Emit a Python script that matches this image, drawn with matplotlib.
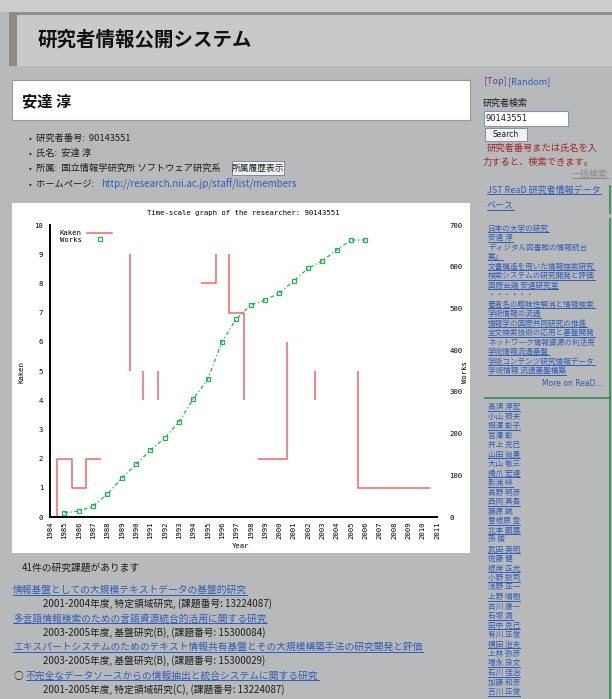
import matplotlib
matplotlib.use("Agg")
import matplotlib.pyplot as plt
from matplotlib.lines import Line2D
from matplotlib.patches import Rectangle

W, H = 612, 699

# chart data
YEARS = list(range(1984, 2012))
TICK_YEARS = [1987, 1988, 1989, 1992, 1993, 1994, 1996, 1998, 1999, 2000,
              2003, 2004, 2005, 2009, 2010]
KAKEN_TICKS = [7, 8]
WORKS_TICKS = [300, 500, 600]

# Kaken steps: separate runs of (year, count)
KAKEN_RUNS = [
    ([1984.5, 1984.5, 1985.5, 1985.5, 1986.5, 1986.5, 1987.55], [0, 2, 2, 1, 1, 2, 2]),
    ([1989.55, 1989.55], [5, 9]),
    ([1990.5, 1990.5], [4, 5]),
    ([1991.5, 1991.5], [4, 5]),
    ([1994.5, 1995.55, 1995.55], [8, 8, 9]),
    ([1996.5, 1996.5, 1997.5, 1997.5], [9, 7, 7, 4]),
    ([1998.5, 2000.5, 2000.5], [2, 2, 6]),
    ([2002.5, 2002.5], [4, 5]),
    ([2005.5, 2005.5, 2010.5], [5, 1, 1]),
]

WORKS_YEARS = list(range(1985, 2007))
WORKS = [10, 14, 26, 55, 93, 126, 160, 189, 228, 283, 330, 420, 475, 508,
         520, 537, 566, 596, 614, 640, 664, 664]

RESEARCHER_ID = "90143551"

# page texts
INFO_LINES = [
    "研究者番号:  90143551",
    "氏名:  安達 淳",
    "所属:  国立情報学研究所 ソフトウェア研究系",
]
HOMEPAGE = "http://research.nii.ac.jp/staff/list/members"

READ_ITEMS = [
    ("日本の大学の研究", True),
    ("安達 淳", True),
    ("ディジタル図書館の情報統合", False),
    ("案」", True),
    ("文書構造を用いた情報検索研究", True),
    ("検索システムの研究開発と評価", True),
    ("国際会議 安達研究室", True),
    ("・・・・・・", False),
    ("著者名の曖昧性解消と情報検索", True),
    ("学術情報の流通", True),
    ("情報学の国際共同研究の推進", True),
    ("全文検索技術の応用と基盤開発", True),
    ("ネットワーク情報資源の利活用", False),
    ("学術情報流通基盤", True),
    ("学術コンテンツ研究情報データ", True),
    ("学術情報 流通基盤構築", True),
]

COAUTHORS = [
    ("高須 淳宏", True), ("小山 照夫", False), ("相澤 彰子", True),
    ("宮澤 彰", False), ("井上 克巳", False), ("山田 尚勇", True),
    ("大山 敬三", False), ("橋爪 宏達", True), ("影浦 峡", True),
    ("高野 明彦", False), ("西岡 真吾", True), ("藤原 誠", False),
    ("曽根原 登", True), ("北本 朝展", True), ("孫 媛", False),
    ("武田 英明", True), ("佐藤 健", False), ("根岸 正光", True),
    ("小野 欽司", True), ("浅野 正一", False), ("上野 晴樹", True),
    ("古川 康一", False), ("石塚 満", True), ("田中 克己", True),
    ("有川 正俊", False), ("横田 治夫", True), ("上林 弥彦", False),
    ("増永 良文", True), ("石川 佳治", True), ("加藤 和彦", False),
    ("吉川 正俊", True),
]

PROJECTS = [
    ("情報基盤としての大規模テキストデータの基盤的研究",
     "2001-2004年度, 特定領域研究, (課題番号: 13224087)"),
    ("多言語情報検索のための言語資源統合的活用に関する研究",
     "2003-2005年度, 基盤研究(B), (課題番号: 15300084)"),
    ("エキスパートシステムのためのテキスト情報共有基盤とその大規模構築手法の研究開発と評価",
     "2003-2005年度, 基盤研究(B), (課題番号: 15300029)"),
    ("不完全なデータソースからの情報抽出と統合システムに関する研究",
     "2001-2005年度, 特定領域研究(C), (課題番号: 13224087)"),
]

RED = "#f0646e"
GREEN = "#22b455"
LINK = "#2e5cb8"
BODY = "#b8b9bb"

plt.rcParams["font.family"] = ["Noto Sans CJK JP", "DejaVu Sans"]

fig = plt.figure(figsize=(W / 100, H / 100), dpi=100)
fig.patch.set_facecolor(BODY)
renderer = fig.canvas.get_renderer()


def fx(x):
    return x / W


def fy(y):
    return 1 - y / H


def box(x0, y0, x1, y1, fc, ec="none", lw=0.0, z=-5):
    fig.add_artist(Rectangle((fx(x0), fy(y1)), (x1 - x0) / W, (y1 - y0) / H,
                             transform=fig.transFigure, facecolor=fc,
                             edgecolor=ec, linewidth=lw, zorder=z))


def line(x0, x1, y0, y1, color, lw=0.8, z=-4):
    fig.add_artist(Line2D([fx(x0), fx(x1)], [fy(y0), fy(y1)],
                          transform=fig.transFigure, color=color, lw=lw, zorder=z))


def text(x, y, s, size=7, color="#1e1e1e", underline=False, **kw):
    t = fig.text(fx(x), fy(y), s, fontsize=size, color=color, va="center", **kw)
    if underline:
        bb = t.get_window_extent(renderer)
        line(bb.x0, bb.x1, H - bb.y0 - 0.5, H - bb.y0 - 0.5, color, lw=0.7)
    return t


# page background pieces
box(0, 0, W, 12, "#cdcdcd")
box(9, 12, W, 66, "#c9c9c9")
box(9, 12, W, 14.5, "#8f8f8f")
box(9, 12, 17, 66, "#8c8c8c")
text(38, 40, "研究者情報公開システム", size=14, color="#111111", weight="bold")

box(12, 80, 470, 120, "white", ec="#9a9a9a", lw=0.8)
text(22, 101, "安達 淳", size=11, color="#111111", weight="bold")

for i, s in enumerate(INFO_LINES):
    y = 138 + i * 15.3
    text(29, y, "•", size=6)
    text(36, y, s, size=6.7)
box(232, 161, 284, 175, "#f2f2f2", ec="#7a8aa0", lw=0.7, z=-3)
text(258, 168, "所属履歴表示", size=6.3, ha="center")
text(29, 184, "•", size=6)
text(36, 184, "ホームページ: ", size=6.7)
text(101, 184, HOMEPAGE, size=7, color=LINK)

# sidebar
text(484, 82, "[Top]", size=6.5, color="#6a3a9a")
text(508, 82, "[Random]", size=6.5, color=LINK)
text(483, 103, "研究者検索", size=6.5)
box(484, 111, 568, 126, "white", ec="#7c9ab8", lw=0.8, z=-3)
text(486, 118.5, RESEARCHER_ID, size=6, family="DejaVu Sans")
box(485, 128, 527, 141, "#f0f0f0", ec="#8090a8", lw=0.7, z=-3)
text(506, 134.5, "Search", size=5.5, ha="center", family="DejaVu Sans")
text(487, 148, "研究者番号または氏名を入", size=6.7, color="#a3252a")
text(483, 162, "力すると、検索できます。", size=6.7, color="#a3252a")
text(608, 174, "一括検索", size=6.5, color="#8a8a8a", ha="right", underline=True)
text(487, 190, "JST ReaD 研究者情報データ", size=6.5, color=LINK, underline=True)
text(487, 206, "ベース", size=6.5, color=LINK, underline=True)
line(609.5, 609.5, 186, 213, "#2e8b57", lw=1.2)
line(609.5, 609.5, 219, 398, "#2e8b57", lw=1.2)
line(485, 610, 397.5, 397.5, "#2e8b57", lw=1.2)
line(609.5, 609.5, 397, H, "#2e8b57", lw=1.2)
for i, (s, u) in enumerate(READ_ITEMS):
    text(488, 228.5 + i * 9.5, s, size=5.5, color=LINK, underline=u)
text(603, 383, "More on ReaD...", size=5.5, color=LINK, ha="right",
     family="DejaVu Sans")
for i, (s, u) in enumerate(COAUTHORS):
    text(488, 407 + i * 9.5, s, size=5.5, color=LINK, underline=u)

# projects list
text(22, 568, "41件の研究課題があります", size=7)
for i, (title, meta) in enumerate(PROJECTS):
    y = 590 + i * 28.5
    if i == 3:
        text(13, y, "○", size=7)
        text(26, y, title, size=7, color=LINK, underline=True)
    else:
        text(13, y, title, size=7, color=LINK, underline=True)
    text(43, y + 14, meta, size=7)

# chart area
box(12, 203, 470, 553, "white", z=-5)
ax = fig.add_axes([fx(50), fy(517), 387 / W, 292 / H])
ax.set_facecolor("none")
ax2 = ax.twinx()

mono = dict(family="DejaVu Sans Mono", fontsize=5.2)

for xs, ys in KAKEN_RUNS:
    ax.plot(xs, ys, color=RED, lw=1.1, solid_capstyle="butt")
ax2.plot(WORKS_YEARS, WORKS, color=GREEN, lw=0.9, dashes=(3, 2, 1, 2),
         marker="s", ms=3.2, mfc="none", mew=0.9)

ax.set_xlim(1984, 2011)
ax.set_ylim(0, 10)
ax2.set_ylim(0, 700)

ax.set_xticks(YEARS)
ax.set_xticklabels([str(y) for y in YEARS], rotation=90, **mono)
ax.set_xticks(TICK_YEARS, minor=True)
ax.set_yticks(range(0, 11))
ax.set_yticklabels([str(v) for v in range(0, 11)], **mono)
ax.set_yticks(KAKEN_TICKS, minor=True)
ax.tick_params(axis="x", which="major", length=0, pad=3)
ax.tick_params(axis="x", which="minor", length=4, width=0.9, direction="in",
               top=True, bottom=True)
ax.tick_params(axis="y", which="major", length=0, pad=5)
ax.tick_params(axis="y", which="minor", length=4, width=0.9, direction="in")

ax2.set_yticks(range(0, 701, 100))
ax2.set_yticklabels([str(v) for v in range(0, 701, 100)], **mono)
ax2.set_yticks(WORKS_TICKS, minor=True)
ax2.tick_params(axis="y", which="major", length=0, pad=9)
ax2.tick_params(axis="y", which="minor", length=4, width=0.9, direction="in")

for a in (ax, ax2):
    a.spines["top"].set_visible(False)
    a.spines["right"].set_visible(False)
ax2.spines["left"].set_visible(False)
ax2.spines["bottom"].set_visible(False)
ax.spines["left"].set_linewidth(1.4)
ax.spines["bottom"].set_linewidth(1.4)

handles = [
    Line2D([], [], color=RED, lw=1.1),
    Line2D([], [], color=GREEN, ls="none", marker="s", ms=3.2, mfc="none", mew=0.9),
]
ax.legend(handles, ["Kaken", "Works"], loc="upper left", bbox_to_anchor=(0.012, 1.0),
          frameon=False, markerfirst=False, prop={"family": "DejaVu Sans Mono", "size": 5.2},
          handlelength=3.4, handletextpad=0.8, labelspacing=0.1, borderpad=0.2)

fig.text(fx(243), fy(213), f"Time-scale graph of the researcher: {RESEARCHER_ID}",
         ha="center", va="center", **mono)
fig.text(fx(241), fy(546), "Year", ha="center", va="center", **mono)
fig.text(fx(22), fy(372), "Kaken", ha="center", va="center", rotation=90, **mono)
fig.text(fx(465), fy(372), "Works", ha="center", va="center", rotation=90, **mono)

fig.savefig("out.png", dpi=100, facecolor=fig.get_facecolor())
